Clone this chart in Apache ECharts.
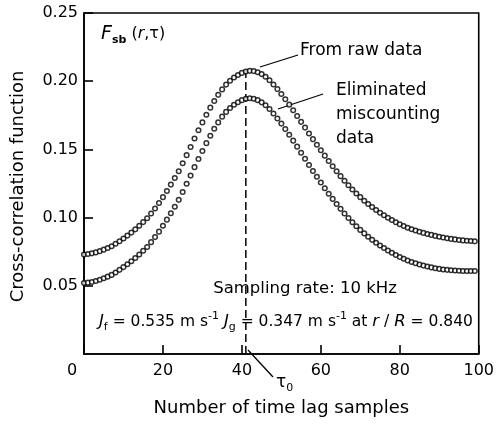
<!DOCTYPE html>
<html>
<head>
<meta charset="utf-8">
<script src="https://cdn.jsdelivr.net/npm/echarts@6/dist/echarts.min.js"></script>
<style>
html, body { margin: 0; padding: 0; background: #fff; }
#main { width: 497px; height: 427px; }
</style>
</head>
<body>
<div id="main"></div>
<script>
// cross-correlation vs. number of time lag samples (lag 0..99)
var rawData = [
  0.0730, 0.0733, 0.0738, 0.0745, 0.0754, 0.0765, 0.0777, 0.0790, 0.0808, 0.0827,
  0.0847, 0.0868, 0.0890, 0.0914, 0.0940, 0.0967, 0.0995, 0.1030, 0.1067, 0.1107,
  0.1150, 0.1195, 0.1242, 0.1290, 0.1340, 0.1398, 0.1458, 0.1518, 0.1580, 0.1640,
  0.1698, 0.1754, 0.1806, 0.1855, 0.1900, 0.1940, 0.1975, 0.2003, 0.2027, 0.2046,
  0.2061, 0.2071, 0.2076, 0.2074, 0.2066, 0.2052, 0.2033, 0.2007, 0.1976, 0.1942,
  0.1906, 0.1868, 0.1828, 0.1787, 0.1745, 0.1702, 0.1660, 0.1617, 0.1575, 0.1534,
  0.1494, 0.1454, 0.1415, 0.1377, 0.1340, 0.1304, 0.1270, 0.1237, 0.1206, 0.1177,
  0.1150, 0.1124, 0.1100, 0.1077, 0.1056, 0.1036, 0.1017, 0.0999, 0.0982, 0.0966,
  0.0951, 0.0938, 0.0926, 0.0915, 0.0905, 0.0896, 0.0888, 0.0880, 0.0873, 0.0866,
  0.0860, 0.0854, 0.0849, 0.0844, 0.0840, 0.0836, 0.0833, 0.0830, 0.0828, 0.0826
];
var elimData = [
  0.0520, 0.0523, 0.0528, 0.0535, 0.0544, 0.0555, 0.0567, 0.0580, 0.0598, 0.0617,
  0.0637, 0.0658, 0.0680, 0.0704, 0.0730, 0.0757, 0.0785, 0.0820, 0.0857, 0.0897,
  0.0940, 0.0985, 0.1032, 0.1080, 0.1130, 0.1188, 0.1248, 0.1308, 0.1370, 0.1430,
  0.1488, 0.1546, 0.1600, 0.1651, 0.1698, 0.1740, 0.1775, 0.1803, 0.1827, 0.1846,
  0.1861, 0.1871, 0.1875, 0.1871, 0.1861, 0.1845, 0.1824, 0.1796, 0.1763, 0.1727,
  0.1689, 0.1649, 0.1607, 0.1564, 0.1520, 0.1475, 0.1431, 0.1386, 0.1342, 0.1299,
  0.1257, 0.1215, 0.1175, 0.1137, 0.1100, 0.1064, 0.1030, 0.0997, 0.0966, 0.0937,
  0.0910, 0.0884, 0.0860, 0.0837, 0.0816, 0.0796, 0.0777, 0.0759, 0.0742, 0.0726,
  0.0711, 0.0698, 0.0686, 0.0675, 0.0665, 0.0656, 0.0648, 0.0641, 0.0635, 0.0629,
  0.0624, 0.0620, 0.0617, 0.0614, 0.0612, 0.0610, 0.0609, 0.0608, 0.0608, 0.0608
];
var tau0 = 41;        // lag of the peak (dashed line)
var tauTop = 0.2076;  // dashed line runs up to the raw peak

var font = 'DejaVu Sans';
var ink = '#000';

var chart = echarts.init(document.getElementById('main'));

function pts(arr) {
  return arr.map(function (v, i) { return [i, v]; });
}

var dotStyle = { color: '#fff', borderColor: ink, borderWidth: 1.5 };

var option = {
  backgroundColor: '#fff',
  animation: false,
  textStyle: { fontFamily: font, color: ink },
  grid: { left: 84, right: 17, top: 13, bottom: 73, show: true, borderColor: ink, borderWidth: 1.6 },
  xAxis: {
    type: 'value', min: 0, max: 100, interval: 20,
    name: 'Number of time lag samples', nameLocation: 'middle', nameGap: 45,
    nameTextStyle: { fontSize: 18, color: ink, fontFamily: font },
    axisLine: { lineStyle: { color: ink, width: 1.6 } },
    axisTick: { inside: true, length: 9, lineStyle: { color: ink, width: 1.6 } },
    axisLabel: {
      fontSize: 16, color: ink, margin: 9, fontFamily: font,
      formatter: function (v) { return v === 0 ? '{o|0}' : String(v); },
      rich: { o: { fontSize: 16, color: ink, fontFamily: font, padding: [0, 24, 0, 0] } }
    },
    splitLine: { show: false }
  },
  yAxis: {
    type: 'value', min: 0, max: 0.25, interval: 0.05,
    name: 'Cross-correlation function', nameLocation: 'middle', nameGap: 57,
    nameTextStyle: { fontSize: 18, color: ink, fontFamily: font, padding: [0, 0, 0, -6] },
    axisLine: { lineStyle: { color: ink, width: 1.6 } },
    axisTick: { inside: true, length: 9, lineStyle: { color: ink, width: 1.6 } },
    axisLabel: {
      fontSize: 16, color: ink, margin: 6, fontFamily: font, showMinLabel: false,
      formatter: function (v) { return v.toFixed(2); }
    },
    splitLine: { show: false }
  },
  series: [
    {
      type: 'line', data: [[tau0, 0], [tau0, tauTop]], symbol: 'none', silent: true,
      lineStyle: { color: ink, width: 1.5, type: [8, 4] }, z: 1
    },
    {
      name: 'From raw data', type: 'scatter', data: pts(rawData),
      symbol: 'circle', symbolSize: 4.6, itemStyle: dotStyle, z: 3
    },
    {
      name: 'Eliminated miscounting data', type: 'scatter', data: pts(elimData),
      symbol: 'circle', symbolSize: 4.6, itemStyle: dotStyle, z: 3
    }
  ],
  graphic: [
    {
      type: 'text', x: 101, y: 34,
      style: {
        text: '{F|F}{s|sb}{n| (}{i|r}{n|,τ)}', fill: ink, textVerticalAlign: 'middle',
        rich: {
          F: { fontStyle: 'italic', fontSize: 19, fontFamily: font, lineHeight: 24 },
          s: { fontSize: 11, fontWeight: 'bold', fontFamily: font, lineHeight: 12, verticalAlign: 'bottom' },
          i: { fontStyle: 'italic', fontSize: 16, fontFamily: font, lineHeight: 24 },
          n: { fontSize: 16, fontFamily: font, lineHeight: 24 }
        }
      }
    },
    {
      type: 'text', x: 300, y: 51,
      style: { text: 'From raw data', fill: ink, font: '17px DejaVu Sans', textVerticalAlign: 'middle' }
    },
    {
      type: 'text', x: 336, y: 115,
      style: { text: 'Eliminated\nmiscounting\ndata', fill: ink, font: '17px DejaVu Sans', lineHeight: 24, textVerticalAlign: 'middle' }
    },
    {
      type: 'text', x: 305, y: 289,
      style: { text: 'Sampling rate: 10 kHz', fill: ink, font: '16.5px DejaVu Sans', textAlign: 'center', textVerticalAlign: 'middle' }
    },
    {
      type: 'text', x: 99, y: 322,
      style: {
        text: '{J|J}{b|f}{n| = 0.535 m s}{p|-1}{n| }{J|J}{b|g}{n| = 0.347 m s}{p|-1}{n| at }{J|r}{n| / }{J|R}{n| = 0.840}',
        fill: ink, textVerticalAlign: 'middle',
        rich: {
          n: { fontSize: 15.5, fontFamily: font, lineHeight: 22 },
          J: { fontSize: 16.5, fontStyle: 'italic', fontFamily: font, lineHeight: 22 },
          b: { fontSize: 11, fontFamily: font, lineHeight: 10, verticalAlign: 'bottom' },
          p: { fontSize: 11, fontFamily: font, lineHeight: 10, verticalAlign: 'top' }
        }
      }
    },
    {
      type: 'text', x: 276, y: 383,
      style: {
        text: '{t|τ}{o|0}', fill: ink, textVerticalAlign: 'middle',
        rich: {
          t: { fontSize: 17, fontFamily: font, lineHeight: 22 },
          o: { fontSize: 11, fontFamily: font, lineHeight: 11, verticalAlign: 'bottom' }
        }
      }
    },
    { type: 'line', shape: { x1: 260, y1: 67, x2: 298, y2: 55 }, style: { stroke: ink, lineWidth: 1.3 } },
    { type: 'line', shape: { x1: 278, y1: 109, x2: 323, y2: 94 }, style: { stroke: ink, lineWidth: 1.3 } },
    { type: 'line', shape: { x1: 248, y1: 350, x2: 273, y2: 377 }, style: { stroke: ink, lineWidth: 1.3 } }
  ]
};

chart.setOption(option);
</script>
</body>
</html>
